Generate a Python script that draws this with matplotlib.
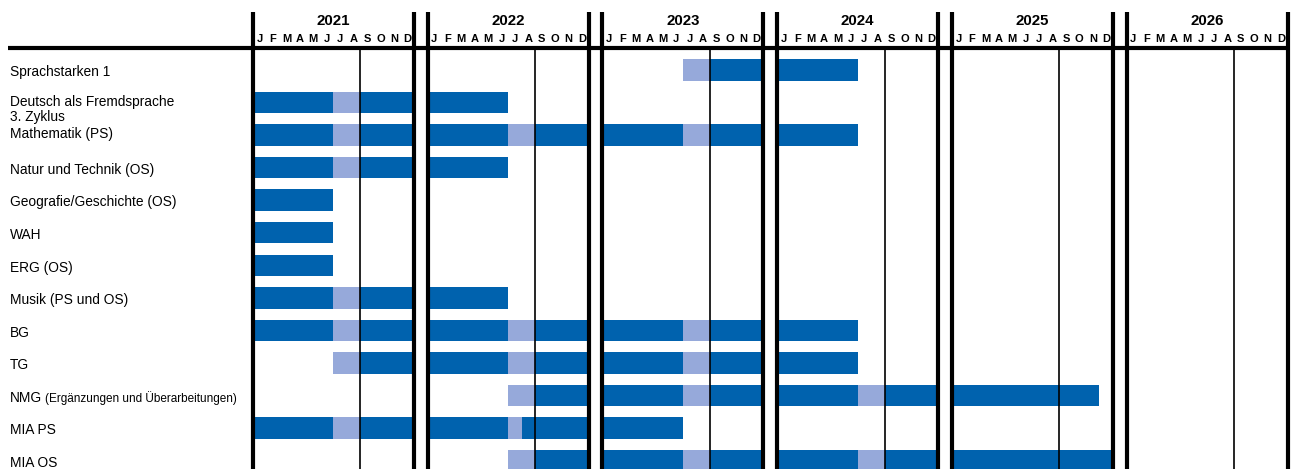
import matplotlib
matplotlib.use("Agg")
import matplotlib.pyplot as plt

# ---------------- data ----------------
years = [2021, 2022, 2023, 2024, 2025, 2026]
month_letters = ["J", "F", "M", "A", "M", "J", "J", "A", "S", "O", "N", "D"]

tasks = [
    "Sprachstarken 1",
    "Deutsch als Fremdsprache",
    "Mathematik (PS)",
    "Natur und Technik (OS)",
    "Geografie/Geschichte (OS)",
    "WAH",
    "ERG (OS)",
    "Musik (PS und OS)",
    "BG",
    "TG",
    "NMG",
    "MIA PS",
    "MIA OS",
]
section_label = "3. Zyklus"
nmg_note = "(Ergänzungen und Überarbeitungen)"

# segments per task: (year, start month, end month, kind) ; kind 'w' = work, 'h' = summer break
schedule = [
    [(2023, 6, 8, "h"), (2023, 8, 12, "w"), (2024, 0, 6, "w")],
    [(2021, 0, 6, "w"), (2021, 6, 8, "h"), (2021, 8, 12, "w"), (2022, 0, 6, "w")],
    [(2021, 0, 6, "w"), (2021, 6, 8, "h"), (2021, 8, 12, "w"),
     (2022, 0, 6, "w"), (2022, 6, 8, "h"), (2022, 8, 12, "w"),
     (2023, 0, 6, "w"), (2023, 6, 8, "h"), (2023, 8, 12, "w"), (2024, 0, 6, "w")],
    [(2021, 0, 6, "w"), (2021, 6, 8, "h"), (2021, 8, 12, "w"), (2022, 0, 6, "w")],
    [(2021, 0, 6, "w")],
    [(2021, 0, 6, "w")],
    [(2021, 0, 6, "w")],
    [(2021, 0, 6, "w"), (2021, 6, 8, "h"), (2021, 8, 12, "w"), (2022, 0, 6, "w")],
    [(2021, 0, 6, "w"), (2021, 6, 8, "h"), (2021, 8, 12, "w"),
     (2022, 0, 6, "w"), (2022, 6, 8, "h"), (2022, 8, 12, "w"),
     (2023, 0, 6, "w"), (2023, 6, 8, "h"), (2023, 8, 12, "w"), (2024, 0, 6, "w")],
    [(2021, 6, 8, "h"), (2021, 8, 12, "w"),
     (2022, 0, 6, "w"), (2022, 6, 8, "h"), (2022, 8, 12, "w"),
     (2023, 0, 6, "w"), (2023, 6, 8, "h"), (2023, 8, 12, "w"), (2024, 0, 6, "w")],
    [(2022, 6, 8, "h"), (2022, 8, 12, "w"),
     (2023, 0, 6, "w"), (2023, 6, 8, "h"), (2023, 8, 12, "w"),
     (2024, 0, 6, "w"), (2024, 6, 8, "h"), (2024, 8, 12, "w"), (2025, 0, 11, "w")],
    [(2021, 0, 6, "w"), (2021, 6, 8, "h"), (2021, 8, 12, "w"),
     (2022, 0, 6, "w"), (2022, 6, 7, "h"), (2022, 7, 12, "w"), (2023, 0, 6, "w")],
    [(2022, 6, 8, "h"), (2022, 8, 12, "w"),
     (2023, 0, 6, "w"), (2023, 6, 8, "h"), (2023, 8, 12, "w"),
     (2024, 0, 6, "w"), (2024, 6, 8, "h"), (2024, 8, 12, "w"), (2025, 0, 12, "w")],
]

# ---------------- style ----------------
DARK = "#0062AE"
LIGHT = "#96A9DA"
colors = {"w": DARK, "h": LIGHT}
YEAR_STEP = 13.02     # 12 months + gap
SCHOOL_START = 8      # thin line (start of September)
BAR_H = 0.66
FONT = "Liberation Sans"

fig = plt.figure(figsize=(12.91, 4.69), dpi=100)
ax = fig.add_axes([0, 0, 1, 1])
ax.set_xlim(-18.85, 77.35)
ax.set_ylim(12.26, -2.15)
ax.axis("off")

def x0(year):
    return (year - years[0]) * YEAR_STEP

# bars
for row, segs in enumerate(schedule):
    for (yr, s, e, kind) in segs:
        ax.barh(row, e - s, left=x0(yr) + s, height=BAR_H,
                color=colors[kind], edgecolor="none", zorder=2)

# grid lines
y_top = -1.79
y_head = -0.68
y_bot = 12.6
for yr in years:
    a = x0(yr)
    ax.plot([a, a], [y_top, y_bot], color="black", lw=3.0, zorder=4, solid_capstyle="butt")
    ax.plot([a + 12, a + 12], [y_top, y_bot], color="black", lw=3.0, zorder=4, solid_capstyle="butt")
    ax.plot([a + SCHOOL_START] * 2, [y_head, y_bot], color="black", lw=1.2, zorder=4)
    ax.text(a + 6, -1.50, str(yr), ha="center", va="center", fontsize=10.8,
            fontweight="bold", family=FONT)
    for m, letter in enumerate(month_letters):
        ax.text(a + m + 0.5, -0.94, letter, ha="center", va="center", fontsize=8,
                fontweight="bold", family=FONT)

ax.plot([-18.26, x0(years[-1]) + 12], [y_head, y_head], color="black", lw=3.0, zorder=4,
        solid_capstyle="butt")

# row labels
label_x = -18.1
LABEL_FS = 9.9
label_dy = {1: -0.1, 2: -0.09}
for row, name in enumerate(tasks):
    y = row + 0.07 + label_dy.get(row, 0)
    t = ax.text(label_x, y, name, ha="left", va="center", fontsize=LABEL_FS, family=FONT)
    if name == "NMG":
        ax.annotate(nmg_note, xy=(1, 0.5), xycoords=t,
                    xytext=(2, 0), textcoords="offset points", ha="left", va="center",
                    fontsize=8.5, family=FONT)
ax.text(label_x, 1.46, section_label, ha="left", va="center", fontsize=LABEL_FS, family=FONT)

fig.savefig("out.png", dpi=100)
